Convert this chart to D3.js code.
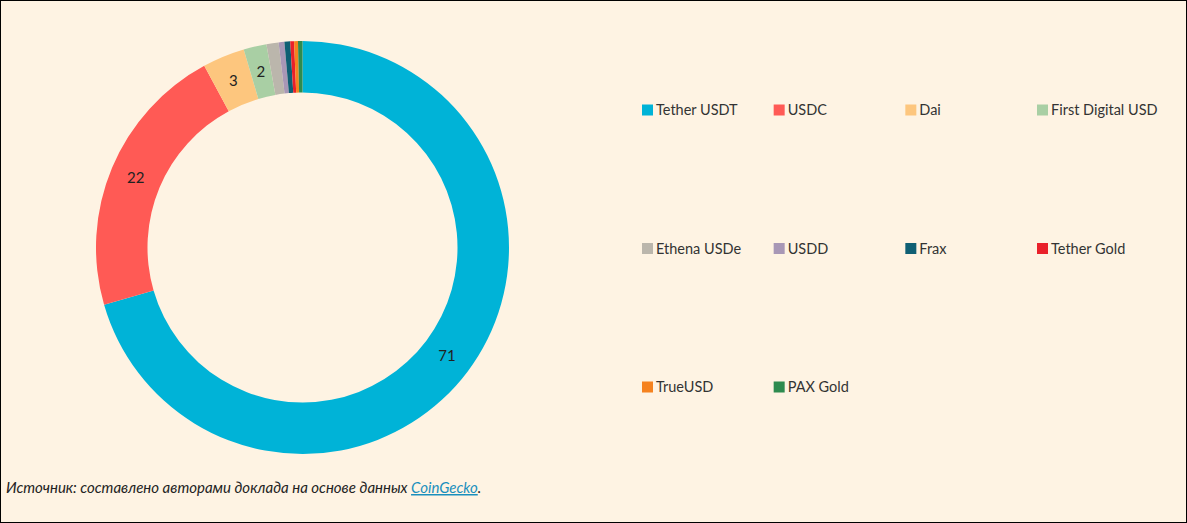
<!DOCTYPE html>
<html><head><meta charset="utf-8">
<script src="https://cdn.jsdelivr.net/npm/d3@7"></script>
<style>
html,body{margin:0;padding:0;background:#fef3e3;}
svg{display:block;}
</style></head>
<body>
<svg id="chart" width="1187" height="523"></svg>
<script>
const categories = ["Tether USDT","USDC","Dai","First Digital USD","Ethena USDe","USDD","Frax","Tether Gold","TrueUSD","PAX Gold"];
const values = [70.6,21.6,3.3,1.8,0.95,0.45,0.45,0.3,0.3,0.35];
const colors = ["#00b3d7","#ff5a55","#fdc67e","#a9cfa4","#bbb6ac","#a897b6","#0f5f74","#e9202a","#f5821f","#2e8b4f"];

const svg = d3.select("#chart");
const W = 1187, H = 523;
svg.append("rect").attr("x",0.5).attr("y",0.5).attr("width",W-1).attr("height",H-1)
  .attr("fill","#fef3e3").attr("stroke","#000").attr("stroke-width",1);

const cx = 302.5, cy = 247.5, R = 206.5, r = 155;
const data = categories.map((c,i)=>({name:c,value:values[i],color:colors[i]}));
const pie = d3.pie().value(d=>d.value).sort(null);
const arc = d3.arc().innerRadius(r).outerRadius(R);
const g = svg.append("g").attr("transform",`translate(${cx},${cy})`);
const arcs = pie(data);
g.selectAll("path").data(arcs).join("path").attr("d",arc).attr("fill",d=>d.data.color);
g.selectAll("text").data(arcs.filter(d=>d.data.value>=1.5)).join("text")
  .attr("transform",d=>`translate(${arc.centroid(d)})`)
  .attr("text-anchor","middle").attr("dy","0.35em")
  .attr("font-family","Lato, sans-serif").attr("font-size",15).attr("fill","#222")
  .text(d=>Math.round(d.value));

// legend
const colX = d3.scalePoint().domain([0,1,2,3]).range([642,1037]);
const rowY = d3.scalePoint().domain([0,1,2]).range([110,387]);
const lg = svg.append("g");
data.forEach((d,i)=>{
  const x = colX(i%4), y = rowY(Math.floor(i/4));
  lg.append("rect").attr("x",x).attr("y",y-5.5).attr("width",11).attr("height",11).attr("fill",d.color);
  lg.append("text").attr("x",x+14).attr("y",y).attr("dy","0.35em")
    .attr("font-family","Lato, sans-serif").attr("font-size",14.5).attr("fill","#333").text(d.name);
});

// footer
const ft = svg.append("text").attr("x",6).attr("y",493)
  .attr("font-family","Lato, sans-serif").attr("font-style","italic").attr("font-size",15).attr("fill","#222");
ft.append("tspan").text("Источник: составлено авторами доклада на основе данных ");
ft.append("tspan").attr("fill","#1a8fbd").attr("text-decoration","underline").text("CoinGecko");
ft.append("tspan").text(".");
</script>
</body></html>
